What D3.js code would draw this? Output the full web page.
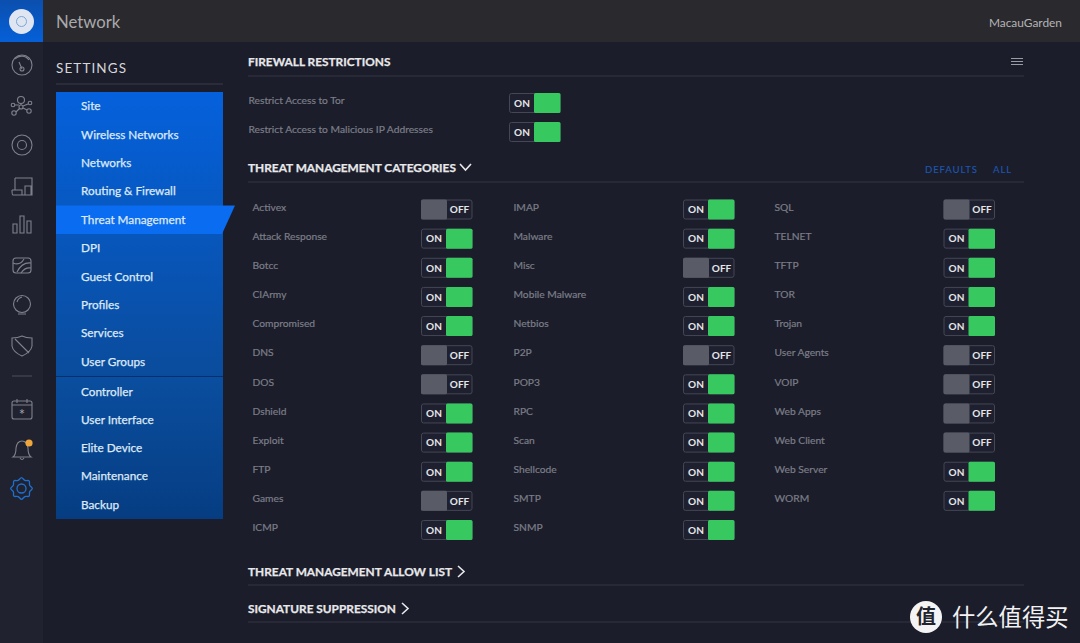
<!DOCTYPE html>
<html>
<head>
<meta charset="utf-8">
<script src="https://cdn.jsdelivr.net/npm/d3@7"></script>
<style>
html, body { margin: 0; padding: 0; background: #1b1d2b; overflow: hidden; }
svg { display: block; }
text { font-family: Lato, "Open Sans", sans-serif; }
</style>
</head>
<body>
<svg id="chart" width="1080" height="643"></svg>
<script>
var menuTop = ["Site", "Wireless Networks", "Networks", "Routing & Firewall", "Threat Management", "DPI", "Guest Control", "Profiles", "Services", "User Groups"];
var menuBottom = ["Controller", "User Interface", "Elite Device", "Maintenance", "Backup"];
var activeMenu = "Threat Management";

var restrictLabels = ["Restrict Access to Tor", "Restrict Access to Malicious IP Addresses"];
var restrictStates = [1, 1];

var col1Names = ["Activex", "Attack Response", "Botcc", "CIArmy", "Compromised", "DNS", "DOS", "Dshield", "Exploit", "FTP", "Games", "ICMP"];
var col1States = [0, 1, 1, 1, 1, 0, 0, 1, 1, 1, 0, 1];
var col2Names = ["IMAP", "Malware", "Misc", "Mobile Malware", "Netbios", "P2P", "POP3", "RPC", "Scan", "Shellcode", "SMTP", "SNMP"];
var col2States = [1, 1, 0, 1, 1, 0, 1, 1, 1, 1, 1, 1];
var col3Names = ["SQL", "TELNET", "TFTP", "TOR", "Trojan", "User Agents", "VOIP", "Web Apps", "Web Client", "Web Server", "WORM"];
var col3States = [0, 1, 1, 1, 1, 0, 0, 0, 0, 1, 1];

var svg = d3.select("#chart");
var defs = svg.append("defs");

function gradient(id, c0, c1) {
    var g = defs.append("linearGradient").attr("id", id).attr("x1", 0).attr("x2", 0).attr("y1", 0).attr("y2", 1);
    g.append("stop").attr("offset", "0%").attr("stop-color", c0);
    g.append("stop").attr("offset", "100%").attr("stop-color", c1);
}
gradient("menuA", "#0561dc", "#0a4c9c");
gradient("menuB", "#0a4e9f", "#063d82");
gradient("logoBg", "#0b4fae", "#0560d8");

// page frame
svg.append("rect").attr("width", 1080).attr("height", 643).attr("fill", "#1b1d2b");
svg.append("rect").attr("width", 43).attr("height", 643).attr("fill", "#20232f");
svg.append("rect").attr("width", 1080).attr("height", 42).attr("fill", "#2a2a2e");
svg.append("rect").attr("width", 43).attr("height", 42).attr("fill", "url(#logoBg)");
svg.append("circle").attr("cx", 21.5).attr("cy", 21.5).attr("r", 12.5).attr("fill", "#dfe6f2");
svg.append("circle").attr("cx", 21.5).attr("cy", 21.5).attr("r", 5).attr("fill", "none").attr("stroke", "#7aa5d8").attr("stroke-width", 1);

svg.append("text").attr("x", 56).attr("y", 28).attr("font-size", 16.7).attr("fill", "#a9a9ab").text("Network");
svg.append("text").attr("x", 1062).attr("y", 27).attr("text-anchor", "end").attr("font-size", 11.9).attr("fill", "#b4b4b6").text("MacauGarden");

// rail icons
var rail = svg.append("g").attr("fill", "none").attr("stroke", "#7f828c").attr("stroke-width", 1.1);
rail.append("circle").attr("cx", 22).attr("cy", 65).attr("r", 10);
rail.append("path").attr("d", "M15 59 A9 9 0 0 1 29 60 M19 62 L22 69");
rail.append("circle").attr("cx", 22).attr("cy", 69).attr("r", 2);
[[21, 100, 3.5], [13, 105, 1.8], [30, 103, 1.8], [14, 113, 2.2], [29, 111, 2.2], [21, 107, 2]].forEach(function(d) {
    rail.append("circle").attr("cx", d[0]).attr("cy", d[1]).attr("r", d[2]);
});
rail.append("path").attr("d", "M21 103 V105 M15 105 H19 M28 104 L23 106 M16 112 L20 108 M27 110 L23 108");
rail.append("circle").attr("cx", 22).attr("cy", 145).attr("r", 10);
rail.append("circle").attr("cx", 22).attr("cy", 145).attr("r", 4.5);
rail.append("path").attr("d", "M15 178 H32 V195 H22 M15 178 V190 M12 190 H22 V195 H13 Q12 195 12 190 M25 186 H31 V195 H25 Z");
rail.append("path").attr("d", "M13 224 h4 v9 h-4 z M20 216 h4 v17 h-4 z M27 221 h4 v12 h-4 z");
rail.append("rect").attr("x", 13).attr("y", 258).attr("width", 18).attr("height", 15).attr("rx", 3);
rail.append("path").attr("d", "M13 263 Q20 266 24 259 M17 272 Q22 262 31 263 M21 273 Q25 267 31 268");
rail.append("circle").attr("cx", 22).attr("cy", 304).attr("r", 8.5);
rail.append("path").attr("d", "M18 314 H26 M17 302 Q18 298 22 297");
rail.append("path").attr("d", "M12 338 Q18 338 22 336 Q26 338 32 338 V346 Q31 352 22 356 Q13 352 12 346 Z M15 339 L29 353");
rail.append("path").attr("d", "M12 376 H32").attr("stroke", "#4a4d58");
rail.append("rect").attr("x", 12).attr("y", 401).attr("width", 20).attr("height", 18).attr("rx", 2);
rail.append("path").attr("d", "M12 405 H32 M17 399 V403 M27 399 V403");
rail.append("text").attr("x", 22).attr("y", 420).attr("text-anchor", "middle").attr("font-size", 15).attr("stroke", "none").attr("fill", "#a0a2aa").text("*");
rail.append("path").attr("d", "M13 457 Q16 455 16 448 Q17 441 22 441 Q27 441 28 448 Q28 455 31 457 Z M20 458 Q22 461 24 458");
svg.append("circle").attr("cx", 29).attr("cy", 443).attr("r", 3.6).attr("fill", "#f0a63a");
var gear = svg.append("g").attr("transform", "translate(21.5,488.5)").attr("fill", "none").attr("stroke", "#1f6fd0").attr("stroke-width", 1.3);
gear.append("circle").attr("r", 4.5);
gear.append("path").attr("d", d3.lineRadial().curve(d3.curveCardinalClosed)(
    d3.range(16).map(function(i) { return [i * Math.PI / 8, i % 2 ? 8.8 : 10.8]; })
));

// settings menu
svg.append("text").attr("x", 56).attr("y", 73).attr("font-size", 13.5).attr("letter-spacing", 1.1).attr("fill", "#d6d6d8").text("SETTINGS");
svg.append("line").attr("x1", 56).attr("x2", 223).attr("y1", 84).attr("y2", 84).attr("stroke", "#3b3d49");

var yMenuTop = d3.scaleLinear().domain([0, menuTop.length - 1]).range([106, 361.5]);
var yMenuBottom = d3.scaleLinear().domain([0, menuBottom.length - 1]).range([391.5, 504.5]);

svg.append("rect").attr("x", 56).attr("y", 92).attr("width", 167).attr("height", 284).attr("fill", "url(#menuA)");
svg.append("rect").attr("x", 56).attr("y", 377).attr("width", 167).attr("height", 142).attr("fill", "url(#menuB)");
svg.append("line").attr("x1", 56).attr("x2", 223).attr("y1", 376.5).attr("y2", 376.5).attr("stroke", "#073069").attr("stroke-width", 1);

var activeY = yMenuTop(menuTop.indexOf(activeMenu));
svg.append("path")
    .attr("d", "M56 " + (activeY - 14) + " H235 L222 " + (activeY + 14.5) + " H56 Z")
    .attr("fill", "#0a6cf0");

function drawMenu(items, y) {
    svg.append("g").selectAll("text").data(items).join("text")
        .attr("x", 81)
        .attr("y", function(d, i) { return y(i) + 4.2; })
        .attr("font-size", 11.75)
        .attr("fill", "#dfe9f7")
        .attr("stroke", "#dfe9f7")
        .attr("stroke-width", 0.25)
        .text(function(d) { return d; });
}
drawMenu(menuTop, yMenuTop);
drawMenu(menuBottom, yMenuBottom);

// section headers
function header(label, y, ruleY) {
    svg.append("text").attr("x", 248).attr("y", y).attr("font-size", 11.85).attr("font-weight", 700)
        .attr("fill", "#e8e8ea").attr("stroke", "#e8e8ea").attr("stroke-width", 0.25).text(label);
    svg.append("line").attr("x1", 248).attr("x2", 1024).attr("y1", ruleY).attr("y2", ruleY).attr("stroke", "#343642").attr("stroke-width", 1.2);
}
header("FIREWALL RESTRICTIONS", 66, 76);
header("THREAT MANAGEMENT CATEGORIES", 172, 182);
header("THREAT MANAGEMENT ALLOW LIST", 575.5, 585);
header("SIGNATURE SUPPRESSION", 613, 622);

var chev = svg.append("g").attr("fill", "none").attr("stroke", "#e8e8ea").attr("stroke-width", 1.6);
chev.append("path").attr("d", "M460 164 L465.5 170 L471 164");
chev.append("path").attr("d", "M458 566 L464 571.5 L458 577");
chev.append("path").attr("d", "M402 603 L408 608.5 L402 614");

var menuIcon = svg.append("g").attr("stroke", "#9a9ca4").attr("stroke-width", 1);
[58, 61, 64].forEach(function(y) {
    menuIcon.append("line").attr("x1", 1011).attr("x2", 1023).attr("y1", y + 0.5).attr("y2", y + 0.5);
});

svg.append("text").attr("x", 925).attr("y", 173).attr("font-size", 9.6).attr("font-weight", 500).attr("letter-spacing", 0.85).attr("fill", "#1d56b0").text("DEFAULTS");
svg.append("text").attr("x", 993).attr("y", 173).attr("font-size", 9.6).attr("font-weight", 500).attr("letter-spacing", 0.85).attr("fill", "#1d56b0").text("ALL");

// toggle drawn at (x, centre y) from a 0/1 state
function toggle(g, x, cy, on) {
    var w = 51.5, h = 20, split = on ? 25 : 26;
    var t = g.append("g").attr("transform", "translate(" + x + "," + (cy - h / 2) + ")");
    t.append("rect").attr("x", 0.5).attr("y", 0.5).attr("width", w - 1).attr("height", h - 1).attr("rx", 2)
        .attr("fill", "#1e2030").attr("stroke", "#444754");
    if (on) {
        t.append("rect").attr("x", split).attr("width", w - split).attr("height", h).attr("rx", 1.5).attr("fill", "#38c860");
    } else {
        t.append("rect").attr("width", split).attr("height", h).attr("rx", 1.5).attr("fill", "#595b67");
    }
    t.append("text")
        .attr("x", on ? 13 : 38.5)
        .attr("y", 13.8)
        .attr("text-anchor", "middle")
        .attr("font-size", 10)
        .attr("font-weight", 700)
        .attr("fill", "#e6e6e8")
        .text(on ? "ON" : "OFF");
}

function rowLabel(g, x, y, name) {
    g.append("text").attr("x", x).attr("y", y).attr("font-size", 10.25)
        .attr("fill", "#7b7d87").attr("stroke", "#7b7d87").attr("stroke-width", 0.2).text(name);
}

// restrictions
var yRestrict = d3.scaleLinear().domain([0, 1]).range([103, 132]);
var restrict = svg.append("g");
restrictLabels.forEach(function(name, i) {
    rowLabel(restrict, 248.5, yRestrict(i) + 1.2, name);
    toggle(restrict, 509, yRestrict(i), restrictStates[i]);
});

// threat categories
var yRow = d3.scaleLinear().domain([0, 11]).range([209.5, 530]);
var columns = [
    { names: col1Names, states: col1States, labelX: 252.5, toggleX: 421 },
    { names: col2Names, states: col2States, labelX: 513.5, toggleX: 683 },
    { names: col3Names, states: col3States, labelX: 774.5, toggleX: 943.5 }
];
columns.forEach(function(col) {
    var g = svg.append("g");
    col.names.forEach(function(name, i) {
        rowLabel(g, col.labelX, yRow(i) + 1.2, name);
        toggle(g, col.toggleX, yRow(i), col.states[i]);
    });
});

// watermark
svg.append("circle").attr("cx", 926).attr("cy", 617).attr("r", 16).attr("fill", "#f4f4f4");
svg.append("text").attr("x", 926).attr("y", 624).attr("text-anchor", "middle").attr("font-size", 20).attr("font-weight", 700)
    .style("font-family", "'Noto Sans CJK SC'").attr("fill", "#23252e").text("值");
svg.append("text").attr("x", 952).attr("y", 625.5).attr("font-size", 23.3)
    .style("font-family", "'Noto Sans CJK SC'").attr("fill", "#f2f2f2").text("什么值得买");
</script>
</body>
</html>
